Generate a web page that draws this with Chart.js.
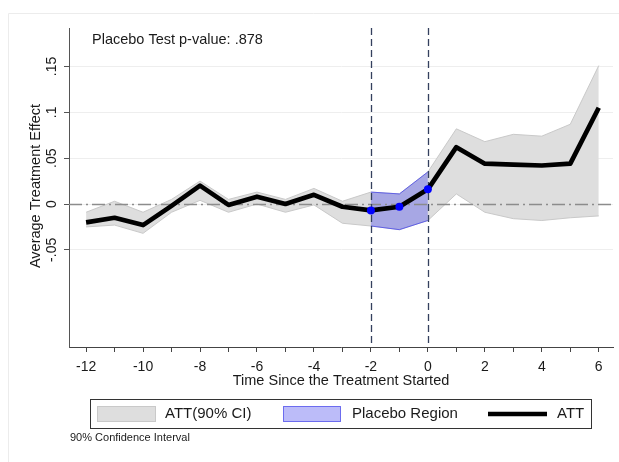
<!DOCTYPE html>
<html>
<head>
<meta charset="utf-8">
<script src="https://cdn.jsdelivr.net/npm/chart.js@4/dist/chart.umd.min.js"></script>
<style>
	html, body { margin: 0; padding: 0; background: #fff; }
	#wrap { position: relative; width: 619px; height: 462px; }
</style>
</head>
<body>
<div id="wrap"><canvas id="chart" width="619" height="462"></canvas></div>
<script>
// event time relative to treatment start
var periods = [-12, -11, -10, -9, -8, -7, -6, -5, -4, -3, -2, -1, 0, 1, 2, 3, 4, 5, 6];
var att = [-0.020, -0.015, -0.023, -0.002, 0.020, -0.001, 0.008, 0.000, 0.010, -0.003, -0.007, -0.003, 0.016, 0.062, 0.044, 0.043, 0.042, 0.044, 0.105];
var ciUpper = [-0.009, 0.003, -0.009, 0.005, 0.025, 0.005, 0.013, 0.005, 0.017, 0.003, 0.013, 0.011, 0.035, 0.082, 0.068, 0.076, 0.074, 0.087, 0.151];
var ciLower = [-0.025, -0.023, -0.032, -0.009, 0.004, -0.009, 0.000, -0.009, -0.001, -0.021, -0.024, -0.028, -0.018, 0.011, -0.009, -0.016, -0.018, -0.015, -0.013];
var placeboPeriods = [-2, -1, 0];
var markerPeriods = [-2, 0];

var xTicks = periods;
var yTicks = [-0.05, 0, 0.05, 0.1, 0.15];
var yTickLabels = ['-.05', '0', '.05', '.1', '.15'];

var pValueText = 'Placebo Test p-value: .878';
var xTitle = 'Time Since the Treatment Started';
var yTitle = 'Average Treatment Effect';
var legendLabels = ['ATT(90% CI)', 'Placebo Region', 'ATT'];
var noteText = '90% Confidence Interval';

var FONT = '"Liberation Sans", Arial, sans-serif';
var TEXT = '#1a1a1a';
var GRAY_FILL = '#dedede';
var GRAY_LINE = '#c9c9c9';
var BLUE_FILL = 'rgba(80, 80, 240, 0.38)';
var BLUE_LINE = 'rgba(70, 70, 235, 0.75)';

function pts(xs, ys){
	return xs.map(function(x, i){ return { x: x, y: ys[i] }; });
}

function pick(arr){
	return placeboPeriods.map(function(p){ return arr[periods.indexOf(p)]; });
}

var overlay = {
	id: 'overlay',
	beforeDraw: function(chart){
		var ctx = chart.ctx;
		ctx.save();
		ctx.fillStyle = '#fff';
		ctx.fillRect(0, 0, chart.width, chart.height);
		ctx.strokeStyle = '#ececec';
		ctx.lineWidth = 1;
		ctx.beginPath();
		ctx.moveTo(8.5, chart.height);
		ctx.lineTo(8.5, 13.5);
		ctx.lineTo(chart.width, 13.5);
		ctx.stroke();
		ctx.restore();
	},
	beforeDatasetDraw: function(chart, args){
		// reference lines sit above the bands, below the ATT line
		if(args.index !== 1) return;
		var ctx = chart.ctx, area = chart.chartArea;
		var xs = chart.scales.x, ys = chart.scales.y;
		ctx.save();
		var y0 = Math.round(ys.getPixelForValue(0)) + 0.5;
		ctx.strokeStyle = '#8c8c8c';
		ctx.lineWidth = 1.3;
		ctx.setLineDash([13, 4, 2, 4]);
		ctx.beginPath();
		ctx.moveTo(area.left, y0);
		ctx.lineTo(area.right, y0);
		ctx.stroke();

		ctx.strokeStyle = '#34405e';
		ctx.lineWidth = 1.3;
		ctx.setLineDash([7, 4]);
		markerPeriods.forEach(function(p){
			var px = Math.round(xs.getPixelForValue(p)) + 0.5;
			ctx.beginPath();
			ctx.moveTo(px, area.top);
			ctx.lineTo(px, area.bottom);
			ctx.stroke();
		});
		ctx.restore();
	},
	afterDraw: function(chart){
		var ctx = chart.ctx, area = chart.chartArea;
		var ys = chart.scales.y;
		ctx.save();
		ctx.fillStyle = TEXT;
		ctx.textBaseline = 'middle';

		// p-value note
		ctx.font = '14.5px ' + FONT;
		ctx.textAlign = 'left';
		ctx.fillText(pValueText, 92, 40);

		// rotated y tick labels
		ctx.font = '14px ' + FONT;
		ctx.textAlign = 'center';
		yTicks.forEach(function(v, i){
			ctx.save();
			ctx.translate(52, ys.getPixelForValue(v));
			ctx.rotate(-Math.PI / 2);
			ctx.fillText(yTickLabels[i], 0, 0);
			ctx.restore();
		});

		// axis titles
		ctx.font = '14.5px ' + FONT;
		ctx.save();
		ctx.translate(36, 186);
		ctx.rotate(-Math.PI / 2);
		ctx.fillText(yTitle, 0, 0);
		ctx.restore();
		ctx.fillText(xTitle, (area.left + area.right) / 2, 381);

		// legend
		ctx.strokeStyle = '#333';
		ctx.lineWidth = 1;
		ctx.strokeRect(90.5, 399.5, 501, 29);

		ctx.fillStyle = GRAY_FILL;
		ctx.fillRect(97.5, 406.5, 58, 15);
		ctx.strokeStyle = GRAY_LINE;
		ctx.strokeRect(97.5, 406.5, 58, 15);

		ctx.fillStyle = BLUE_FILL;
		ctx.fillRect(283.5, 406.5, 57, 15);
		ctx.strokeStyle = BLUE_LINE;
		ctx.strokeRect(283.5, 406.5, 57, 15);

		ctx.strokeStyle = '#000';
		ctx.lineWidth = 4.5;
		ctx.beginPath();
		ctx.moveTo(488, 414);
		ctx.lineTo(547, 414);
		ctx.stroke();

		ctx.fillStyle = TEXT;
		ctx.font = '15px ' + FONT;
		ctx.textAlign = 'left';
		ctx.fillText(legendLabels[0], 165, 414);
		ctx.fillText(legendLabels[1], 352, 414);
		ctx.fillText(legendLabels[2], 557, 414);

		ctx.font = '11px ' + FONT;
		ctx.fillText(noteText, 70, 438);
		ctx.restore();
	}
};

var chart = new Chart(document.getElementById('chart').getContext('2d'), {
	type: 'line',
	data: {
		datasets: [
			{ // placebo dots
				data: pts(placeboPeriods, pick(att)),
				showLine: false,
				pointRadius: 4,
				pointBackgroundColor: '#0000ff',
				pointBorderColor: '#0000ff',
				pointBorderWidth: 0
			},
			{ // ATT
				data: pts(periods, att),
				borderColor: '#000',
				borderWidth: 4.7,
				borderJoinStyle: 'round',
				pointRadius: 0,
				fill: false
			},
			{ // placebo lower
				data: pts(placeboPeriods, pick(ciLower)),
				borderColor: BLUE_LINE,
				borderWidth: 1,
				pointRadius: 0,
				fill: false
			},
			{ // placebo upper
				data: pts(placeboPeriods, pick(ciUpper)),
				borderColor: BLUE_LINE,
				borderWidth: 1,
				pointRadius: 0,
				backgroundColor: BLUE_FILL,
				fill: '-1'
			},
			{ // CI lower
				data: pts(periods, ciLower),
				borderColor: GRAY_LINE,
				borderWidth: 1,
				pointRadius: 0,
				fill: false
			},
			{ // CI upper
				data: pts(periods, ciUpper),
				borderColor: GRAY_LINE,
				borderWidth: 1,
				pointRadius: 0,
				backgroundColor: GRAY_FILL,
				fill: '-1'
			}
		]
	},
	options: {
		responsive: false,
		animation: false,
		devicePixelRatio: 1,
		layout: { padding: { top: 28, right: 6, left: 0, bottom: 0 } },
		elements: { line: { tension: 0 } },
		plugins: {
			legend: { display: false },
			tooltip: { enabled: false },
			filler: { propagate: false }
		},
		scales: {
			x: {
				type: 'linear',
				min: -12.6,
				max: 6.5,
				afterBuildTicks: function(scale){
					scale.ticks = xTicks.map(function(v){ return { value: v }; });
				},
				afterFit: function(scale){ scale.height = 115; },
				ticks: {
					autoSkip: false,
					maxRotation: 0,
					minRotation: 0,
					padding: 7,
					color: TEXT,
					font: { family: FONT, size: 14 },
					callback: function(v){ return v % 2 === 0 ? String(v) : ''; }
				},
				grid: { drawOnChartArea: false, drawTicks: true, tickLength: 5, tickColor: '#444' },
				border: { color: '#444', width: 1 }
			},
			y: {
				type: 'linear',
				min: -0.156,
				max: 0.192,
				afterBuildTicks: function(scale){
					scale.ticks = yTicks.map(function(v){ return { value: v }; });
				},
				afterFit: function(scale){ scale.width = 69; },
				ticks: { display: false },
				grid: { color: '#eeeeee', lineWidth: 1, drawTicks: true, tickLength: 5, tickColor: '#555' },
				border: { color: '#555', width: 1 }
			}
		}
	},
	plugins: [overlay]
});
</script>
</body>
</html>
